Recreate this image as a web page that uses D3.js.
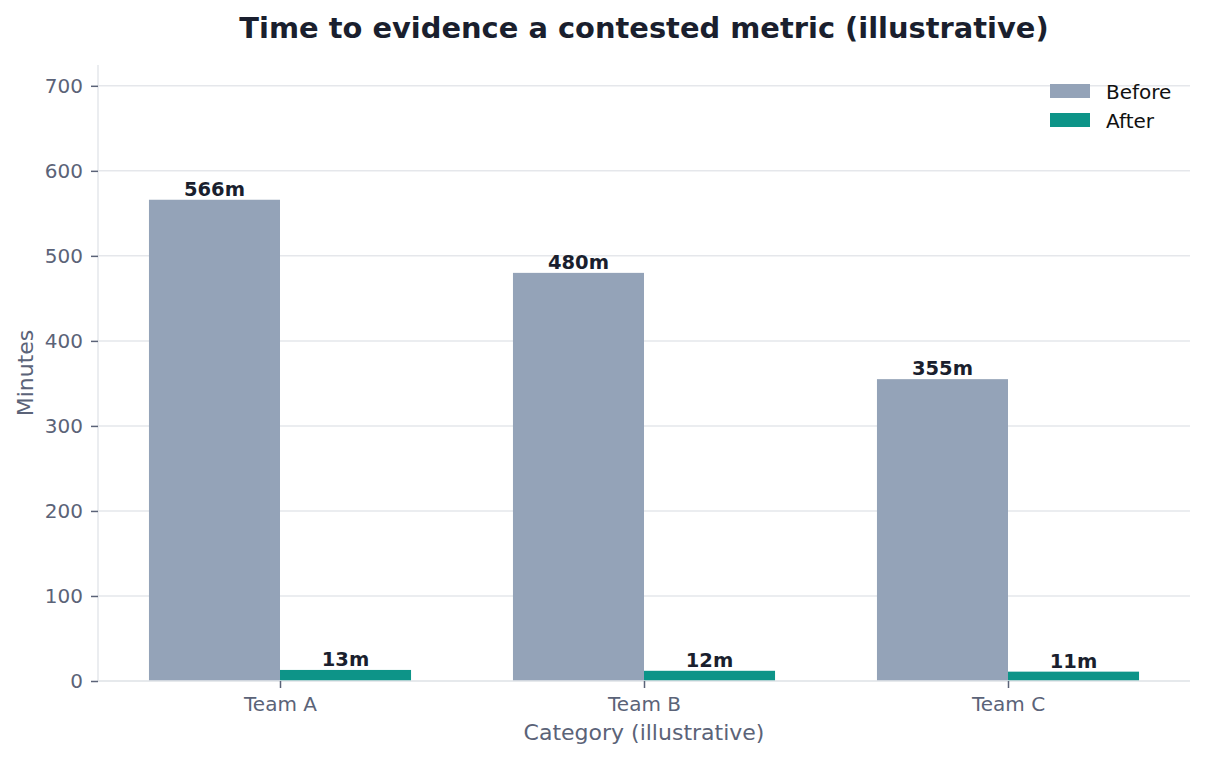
<!DOCTYPE html>
<html>
<head>
<meta charset="utf-8">
<script src="https://cdn.jsdelivr.net/npm/d3@7"></script>
<style>
  html, body { margin: 0; padding: 0; background: #fff; }
  svg { display: block; font-family: "DejaVu Sans", sans-serif; }
</style>
</head>
<body>
<div id="chart"></div>
<script>
const categories = ["Team A", "Team B", "Team C"];
const seriesNames = ["Before", "After"];
const beforeValues = [566, 480, 355];
const afterValues = [13, 12, 11];
const yTicks = [0, 100, 200, 300, 400, 500, 600, 700];

const COLORS = { Before: "#94a3b8", After: "#0d9488" };

const width = 1206, height = 760;
const margin = { top: 65, right: 16, bottom: 79, left: 98 };
const W = width - margin.left - margin.right;
const H = height - margin.top - margin.bottom;

const svg = d3.select("#chart").append("svg")
  .attr("width", width).attr("height", height);

const g = svg.append("g").attr("transform", `translate(${margin.left},${margin.top})`);

// category positions on a linear index scale, bars 0.36 wide each
const xScale = d3.scaleLinear().domain([-0.5, categories.length - 0.5]).range([0, W]);
const yScale = d3.scaleLinear().domain([0, d3.max(beforeValues) * 1.28]).range([H, 0]);
const barW = 0.36;

// grid
g.append("g").selectAll("line").data(yTicks).join("line")
  .attr("x1", 0).attr("x2", W)
  .attr("y1", d => yScale(d)).attr("y2", d => yScale(d))
  .attr("stroke", "#e5e7eb").attr("stroke-width", 1.5);

// bars
const series = [
  { name: "Before", values: beforeValues, offset: -barW / 2 },
  { name: "After", values: afterValues, offset: barW / 2 }
];

series.forEach(s => {
  g.append("g").selectAll("rect").data(s.values).join("rect")
    .attr("x", (d, i) => xScale(i + s.offset - barW / 2))
    .attr("width", xScale(barW) - xScale(0))
    .attr("y", d => yScale(d))
    .attr("height", d => yScale(0) - yScale(d))
    .attr("fill", COLORS[s.name]);

  g.append("g").selectAll("text").data(s.values).join("text")
    .attr("x", (d, i) => xScale(i + s.offset))
    .attr("y", d => yScale(d) - 4)
    .attr("text-anchor", "middle")
    .attr("font-size", "19.5px").attr("font-weight", "bold")
    .attr("fill", "#1a1f2e")
    .text(d => d + "m");
});

// axes
const yAxis = g.append("g")
  .call(d3.axisLeft(yScale).tickValues(yTicks).tickSize(7).tickPadding(8));
const xAxis = g.append("g").attr("transform", `translate(0,${H})`)
  .call(d3.axisBottom(xScale).tickValues(d3.range(categories.length))
    .tickFormat(i => categories[i]).tickSize(7).tickPadding(9));

[yAxis, xAxis].forEach(ax => {
  ax.select(".domain").attr("stroke", "#e5e7eb").attr("stroke-width", 1.5);
  ax.selectAll(".tick line").attr("stroke", "#5b6378").attr("stroke-width", 1.5);
  ax.selectAll(".tick text").attr("fill", "#5b6378")
    .attr("font-size", "20px").attr("font-family", "DejaVu Sans, sans-serif");
});
// spines run the full axis length
xAxis.select(".domain").attr("d", `M0,0H${W}`);
yAxis.select(".domain").attr("d", `M0,0V${H}`);

// axis labels
svg.append("text")
  .attr("x", margin.left + W / 2).attr("y", 740)
  .attr("text-anchor", "middle").attr("font-size", "22px").attr("fill", "#5b6378")
  .text("Category (illustrative)");

svg.append("text")
  .attr("transform", `translate(33,${margin.top + H / 2}) rotate(-90)`)
  .attr("text-anchor", "middle").attr("font-size", "22px").attr("fill", "#5b6378")
  .text("Minutes");

// title
svg.append("text")
  .attr("x", margin.left + W / 2).attr("y", 38)
  .attr("text-anchor", "middle").attr("font-size", "28.9px").attr("font-weight", "bold")
  .attr("fill", "#1a1f2e")
  .text("Time to evidence a contested metric (illustrative)");

// legend
const legend = svg.append("g").attr("transform", "translate(1050,84)");
seriesNames.forEach((name, i) => {
  const row = legend.append("g").attr("transform", `translate(0,${i * 29})`);
  row.append("rect").attr("width", 40).attr("height", 14).attr("fill", COLORS[name]);
  row.append("text").attr("x", 56).attr("y", 15)
    .attr("font-size", "20px").attr("fill", "#111").text(name);
});
</script>
</body>
</html>
